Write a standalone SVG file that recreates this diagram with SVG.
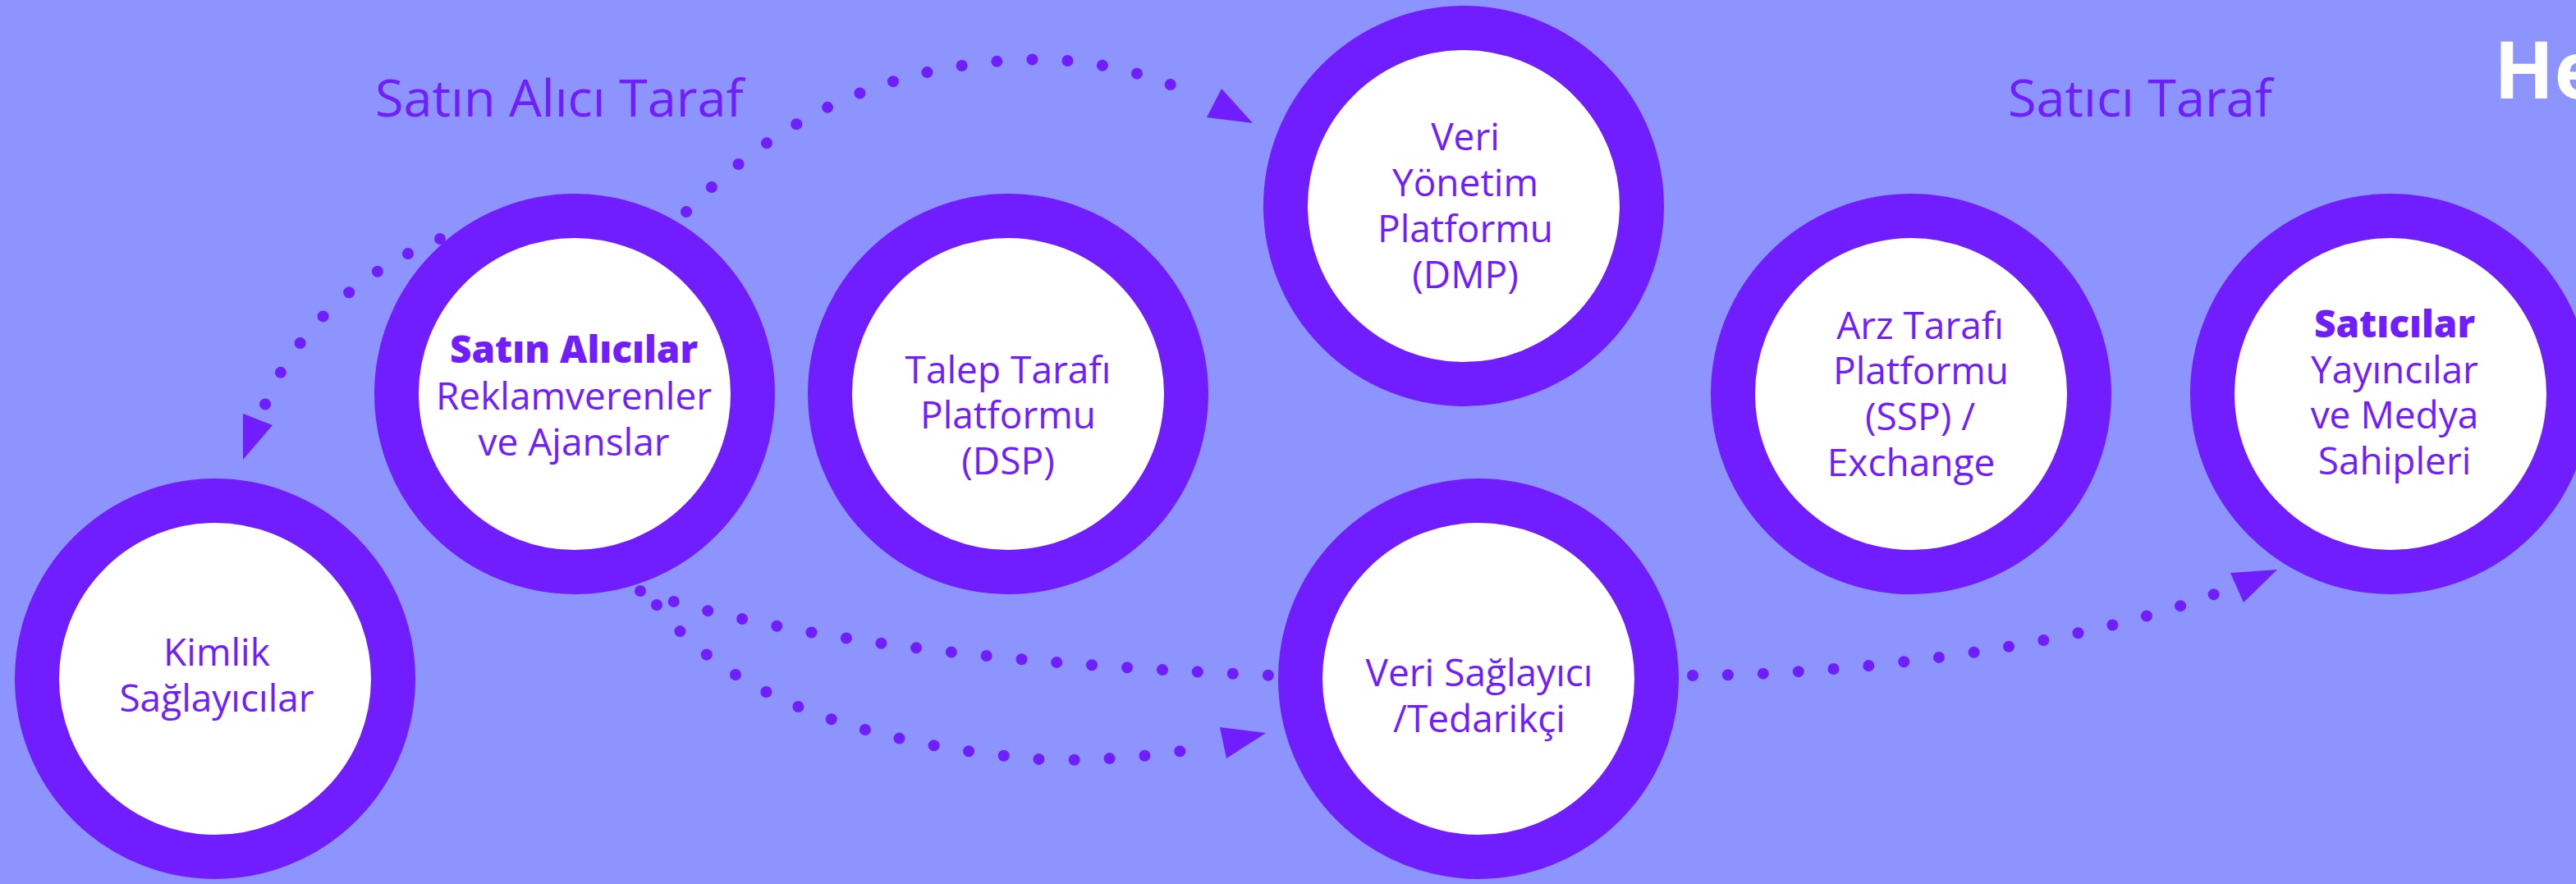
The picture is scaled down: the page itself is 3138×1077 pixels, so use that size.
<svg xmlns="http://www.w3.org/2000/svg" width="3138" height="1077" viewBox="0 0 3138 1077">
<style>
.bg{fill:#8E94FE}
.ring{fill:#FFFFFF;stroke:#701EFF;stroke-width:54}
.lbl{font-family:"Open Sans","Liberation Sans",sans-serif;font-size:46px;fill:#701EFF;text-anchor:middle}
.b{font-weight:800}
.side{font-family:"Open Sans","Liberation Sans",sans-serif;font-size:63px;fill:#701EFF}
.head{font-family:"Open Sans","Liberation Sans",sans-serif;font-size:96px;font-weight:700;fill:#FFFFFF}
.dot{fill:none;stroke:#701EFF;stroke-width:14;stroke-linecap:round;stroke-dasharray:0 43}
.ah{fill:#701EFF}
</style>
<rect class="bg" x="0" y="0" width="3138" height="1077"/>
<text class="side" x="457" y="142">Satın Alıcı Taraf</text>
<text class="side" x="2446" y="142">Satıcı Taraf</text>
<text class="head" x="3038" y="120">He</text>
<g id="connectors">
<path class="dot" d="M536,291 C440,330 360,400 322,495"/>
<polygon class="ah" points="296,504 332,518 296,560"/>
<path class="dot" d="M836,258 C960,130 1100,78 1250,72.7 C1340,70 1410,95 1465,119"/>
<polygon class="ah" points="1488,108 1526,150 1470,143"/>
<path class="dot" d="M780,720 C940,775 1200,808 1550,823"/>
<path class="dot" d="M800,737 C860,815 990,905 1280,926 C1380,926 1440,916 1476,908"/>
<polygon class="ah" points="1486,886 1542,893 1494,924"/>
<path class="dot" d="M2062,823 C2250,822 2520,790 2697,724"/>
<polygon class="ah" points="2717,698 2774,694 2733,734"/>
</g>
<g id="kimlik">
<circle class="ring" cx="262" cy="827" r="217"/>
<text class="lbl" x="264" y="811">Kimlik</text>
<text class="lbl" x="264" y="867">Sağlayıcılar</text>
</g>
<g id="satin-alicilar">
<circle class="ring" cx="700" cy="480" r="217"/>
<text class="lbl b" x="699" y="442">Satın Alıcılar</text>
<text class="lbl" x="699" y="499">Reklamverenler</text>
<text class="lbl" x="699" y="555">ve Ajanslar</text>
</g>
<g id="dsp">
<circle class="ring" cx="1228" cy="480" r="217"/>
<text class="lbl" x="1228" y="467">Talep Tarafı</text>
<text class="lbl" x="1228" y="522">Platformu</text>
<text class="lbl" x="1228" y="578">(DSP)</text>
</g>
<g id="dmp">
<circle class="ring" cx="1783" cy="251" r="217"/>
<text class="lbl" x="1785" y="183">Veri</text>
<text class="lbl" x="1785" y="239">Yönetim</text>
<text class="lbl" x="1785" y="295">Platformu</text>
<text class="lbl" x="1785" y="351">(DMP)</text>
</g>
<g id="veri-saglayici">
<circle class="ring" cx="1801" cy="827" r="217"/>
<text class="lbl" x="1802" y="836">Veri Sağlayıcı</text>
<text class="lbl" x="1802" y="892">/Tedarikçi</text>
</g>
<g id="ssp">
<circle class="ring" cx="2328" cy="480" r="217"/>
<text class="lbl" x="2339" y="413">Arz Tarafı</text>
<text class="lbl" x="2340" y="468">Platformu</text>
<text class="lbl" x="2339" y="524">(SSP) /</text>
<text class="lbl" x="2328" y="580">Exchange</text>
</g>
<g id="saticilar">
<circle class="ring" cx="2912" cy="480" r="217"/>
<text class="lbl b" x="2917" y="411">Satıcılar</text>
<text class="lbl" x="2917" y="467">Yayıncılar</text>
<text class="lbl" x="2917" y="522">ve Medya</text>
<text class="lbl" x="2917" y="578">Sahipleri</text>
</g>
</svg>
